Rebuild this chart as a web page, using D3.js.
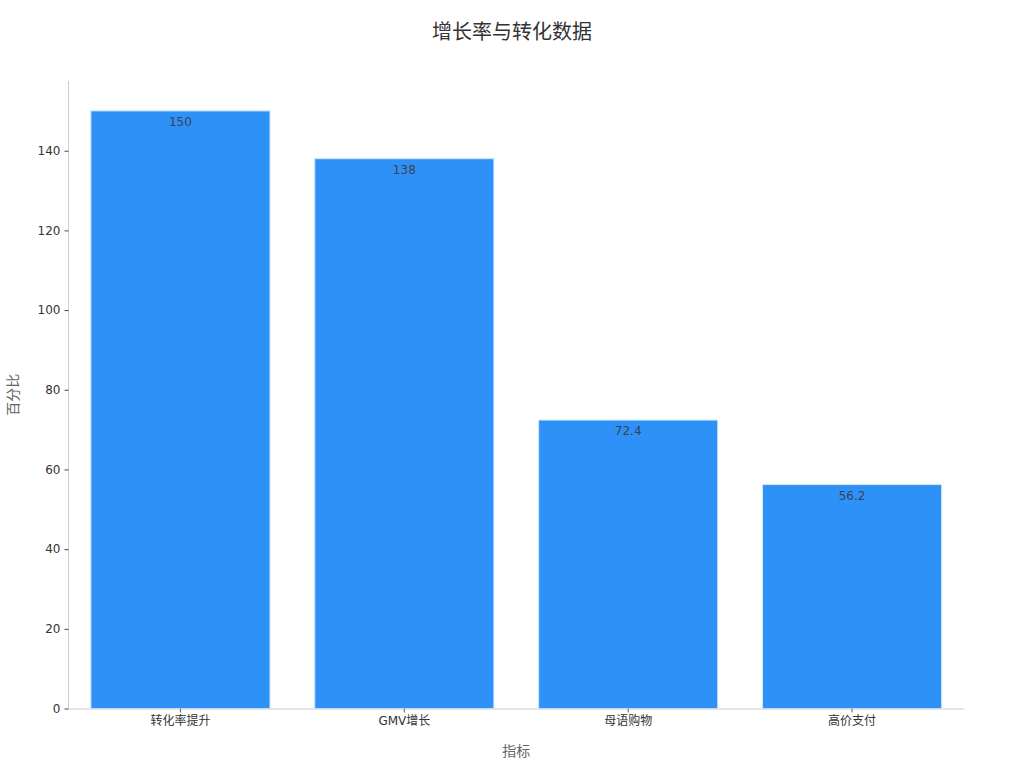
<!DOCTYPE html>
<html>
<head>
<meta charset="utf-8">
<script src="https://cdn.jsdelivr.net/npm/d3@7"></script>
<style>
  body { margin: 0; background: #fff; }
  text { font-family: "DejaVu Sans", "Noto Sans CJK SC", sans-serif; }
</style>
</head>
<body>
<div id="chart"></div>
<script>
// categories and values
const categories = ["转化率提升", "GMV增长", "母语购物", "高价支付"];
const values = [150, 138, 72.4, 56.2];
const yTicks = [0, 20, 40, 60, 80, 100, 120, 140];

const width = 1024, height = 768;
const margin = { top: 81, right: 60, bottom: 59.5, left: 68.5 };

const svg = d3.select("#chart")
    .append("svg")
    .attr("width", width)
    .attr("height", height);

const x = d3.scaleBand()
    .domain(categories)
    .range([margin.left, width - margin.right])
    .paddingInner(0.2)
    .paddingOuter(0.1);

const y = d3.scaleLinear()
    .domain([0, d3.max(values) * 1.05])
    .range([height - margin.bottom, margin.top]);

// bars
svg.selectAll(".bar")
    .data(values)
    .enter()
    .append("rect")
    .attr("class", "bar")
    .attr("x", (d, i) => x(categories[i]))
    .attr("y", d => y(d))
    .attr("width", x.bandwidth())
    .attr("height", d => y(0) - y(d))
    .attr("fill", "#2e91f8")
    .attr("stroke", "#cfe5fd")
    .attr("stroke-width", 1);

// value labels
svg.selectAll(".val")
    .data(values)
    .enter()
    .append("text")
    .attr("x", (d, i) => x(categories[i]) + x.bandwidth() / 2)
    .attr("y", d => y(d) + 15)
    .attr("text-anchor", "middle")
    .attr("font-size", 12)
    .attr("fill", "#3a4150")
    .text(d => d);

// y axis
const yAxis = svg.append("g")
    .attr("transform", `translate(${margin.left},0)`)
    .call(d3.axisLeft(y).tickValues(yTicks).tickSize(4).tickPadding(4).tickSizeOuter(0));
yAxis.select(".domain").attr("stroke", "#cccccc").attr("d", `M0,${y.range()[0]}V${y.range()[1]}`);
yAxis.selectAll(".tick line").attr("stroke", "#444");
yAxis.selectAll(".tick text").attr("font-size", 12).attr("fill", "#333").style("font-family", "DejaVu Sans");

// x axis
const xAxis = svg.append("g")
    .attr("transform", `translate(0,${height - margin.bottom})`)
    .call(d3.axisBottom(x).tickSize(4).tickPadding(4).tickSizeOuter(0));
xAxis.select(".domain").attr("stroke", "#cccccc");
xAxis.selectAll(".tick line").attr("stroke", "#666");
xAxis.selectAll(".tick text").attr("font-size", 12).attr("fill", "#333");

// title
svg.append("text")
    .attr("x", width / 2)
    .attr("y", 39)
    .attr("text-anchor", "middle")
    .attr("font-size", 20)
    .attr("fill", "#333")
    .text("增长率与转化数据");

// axis labels
svg.append("text")
    .attr("x", (margin.left + width - margin.right) / 2)
    .attr("y", 756)
    .attr("text-anchor", "middle")
    .attr("font-size", 14)
    .attr("fill", "#666")
    .text("指标");

svg.append("text")
    .attr("transform", `translate(18,${(margin.top + height - margin.bottom) / 2}) rotate(-90)`)
    .attr("text-anchor", "middle")
    .attr("font-size", 14)
    .attr("fill", "#666")
    .text("百分比");
</script>
</body>
</html>
